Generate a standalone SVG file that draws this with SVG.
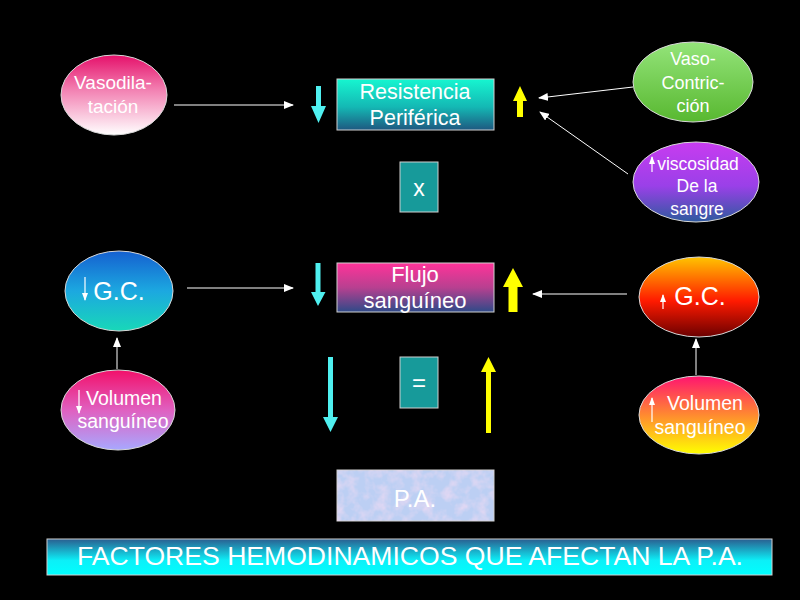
<svg xmlns="http://www.w3.org/2000/svg" width="800" height="600" viewBox="0 0 800 600">
<defs>
<style>
text{font-family:"Liberation Sans",Arial,sans-serif;fill:#ffffff;text-anchor:middle}
.node{stroke:#d8d8d8;stroke-width:1}
.box{stroke:#d0d0d0;stroke-width:1}
.conn{stroke:#ffffff;stroke-width:1;fill:none}
.thin{stroke:#ffffff;stroke-width:1.2;fill:none}
.cyan{fill:#4ff0f0}
.yel{fill:#ffff00}
</style>
<marker id="ah" markerUnits="userSpaceOnUse" markerWidth="10" markerHeight="8" refX="9" refY="4" orient="auto">
<path d="M0,0 L10,4 L0,8 Z" fill="#ffffff"/>
</marker>
<marker id="sm" markerUnits="userSpaceOnUse" markerWidth="8" markerHeight="6" refX="7" refY="3" orient="auto">
<path d="M0,0 L8,3 L0,6 Z" fill="#ffffff"/>
</marker>
<linearGradient id="gVaso" x1="0" y1="0" x2="0" y2="1"><stop offset="0" stop-color="#e5106a"/><stop offset="0.45" stop-color="#f384b4"/><stop offset="1" stop-color="#ffffff"/></linearGradient>
<linearGradient id="gRes" x1="0" y1="0" x2="0" y2="1"><stop offset="0" stop-color="#16f6d0"/><stop offset="0.55" stop-color="#14b8b4"/><stop offset="1" stop-color="#1e5880"/></linearGradient>
<linearGradient id="gCon" x1="0" y1="0" x2="0" y2="1"><stop offset="0" stop-color="#94e47a"/><stop offset="1" stop-color="#58b830"/></linearGradient>
<linearGradient id="gVis" x1="0" y1="0" x2="0" y2="1"><stop offset="0" stop-color="#c83cf0"/><stop offset="0.55" stop-color="#9a40e8"/><stop offset="1" stop-color="#2e5a9e"/></linearGradient>
<linearGradient id="gGCl" x1="0" y1="0" x2="0" y2="1"><stop offset="0" stop-color="#1560d0"/><stop offset="0.5" stop-color="#1ca8e0"/><stop offset="1" stop-color="#18d8b8"/></linearGradient>
<linearGradient id="gVoll" x1="0" y1="0" x2="0" y2="1"><stop offset="0" stop-color="#f2106a"/><stop offset="0.5" stop-color="#e060c0"/><stop offset="1" stop-color="#a8a8ff"/></linearGradient>
<linearGradient id="gFlu" x1="0" y1="0" x2="0" y2="1"><stop offset="0" stop-color="#ff3399"/><stop offset="0.5" stop-color="#b84090"/><stop offset="1" stop-color="#2e4a88"/></linearGradient>
<linearGradient id="gGCr" x1="0" y1="0" x2="0" y2="1"><stop offset="0" stop-color="#ffc400"/><stop offset="0.55" stop-color="#ff1a00"/><stop offset="1" stop-color="#6a0000"/></linearGradient>
<linearGradient id="gVolr" x1="0" y1="0" x2="0" y2="1"><stop offset="0" stop-color="#ff1470"/><stop offset="0.5" stop-color="#ff8a30"/><stop offset="1" stop-color="#ffff00"/></linearGradient>
<linearGradient id="gBan" x1="0" y1="0" x2="0" y2="1"><stop offset="0" stop-color="#2a5e90"/><stop offset="0.6" stop-color="#0cf0f8"/><stop offset="1" stop-color="#00ffff"/></linearGradient>
<filter id="tex" x="0" y="0" width="1" height="1">
<feTurbulence type="fractalNoise" baseFrequency="0.09" numOctaves="3" seed="4" result="n"/>
<feColorMatrix in="n" type="matrix" values="0 0 0 0 0.93  0 0 0 0 0.72  0 0 0 0 0.9  1.4 0 0 0 -0.55" result="c"/>
<feComposite in="c" in2="SourceGraphic" operator="in"/>
</filter>
</defs>
<rect width="800" height="600" fill="#000000"/>

<g id="connectors">
<line class="conn" x1="174" y1="105" x2="293" y2="105" marker-end="url(#ah)"/>
<line class="conn" x1="633" y1="87" x2="539" y2="98" marker-end="url(#ah)"/>
<line class="conn" x1="628" y1="174" x2="540" y2="112" marker-end="url(#ah)"/>
<line class="conn" x1="187" y1="288" x2="293" y2="288" marker-end="url(#ah)"/>
<line class="conn" x1="627" y1="294" x2="533" y2="294" marker-end="url(#ah)"/>
<line class="conn" x1="117" y1="369" x2="117" y2="338" marker-end="url(#ah)"/>
<line class="conn" x1="696" y1="375" x2="696" y2="339" marker-end="url(#ah)"/>
</g>

<g id="arrows">
<polygon class="cyan" points="316,86 321,86 321,106 326,106 318.5,123 311,106 316,106"/>
<polygon class="yel" points="520,86 527,101 523,101 523,117 517,117 517,101 513,101"/>
<polygon class="cyan" points="315.5,263 320.5,263 320.5,292 325.5,292 318,306 311,292 315.5,292"/>
<polygon class="yel" points="513,268 523,287 517.5,287 517.5,312 508.5,312 508.5,287 503,287"/>
<polygon class="cyan" points="328,357 333,357 333,417 338,417 330.5,432 323,417 328,417"/>
<polygon class="yel" points="488.5,357 496,372 491,372 491,433 486,433 486,372 481,372"/>
</g>

<g id="vasodilatacion">
<ellipse class="node" cx="114" cy="95" rx="53" ry="40" fill="url(#gVaso)"/>
<text x="113" y="89" font-size="19">Vasodila-</text>
<text x="113" y="113" font-size="19">tación</text>
</g>

<g id="resistencia">
<rect class="box" x="337" y="79" width="157" height="51" fill="url(#gRes)"/>
<text x="415" y="99" font-size="21.5">Resistencia</text>
<text x="415" y="125" font-size="21.5">Periférica</text>
</g>

<g id="por">
<rect class="box" x="400" y="162" width="38" height="50" fill="#179a9a"/>
<text x="419" y="196" font-size="23">x</text>
</g>

<g id="vasocontriccion">
<ellipse class="node" cx="693" cy="82" rx="60" ry="40" fill="url(#gCon)"/>
<text x="693" y="65" font-size="18">Vaso-</text>
<text x="693" y="89" font-size="18">Contric-</text>
<text x="693" y="112" font-size="18">ción</text>
</g>

<g id="viscosidad">
<ellipse class="node" cx="696" cy="182" rx="63" ry="40" fill="url(#gVis)"/>
<line class="thin" x1="652" y1="172" x2="652" y2="157" marker-end="url(#sm)"/>
<text x="698" y="170" font-size="17.5">viscosidad</text>
<text x="697" y="192" font-size="17.5">De la</text>
<text x="697" y="215" font-size="17.5">sangre</text>
</g>

<g id="gc-izq">
<ellipse class="node" cx="119" cy="291" rx="54" ry="40" fill="url(#gGCl)"/>
<line class="thin" x1="85" y1="277" x2="85" y2="300" marker-end="url(#sm)"/>
<text x="119" y="300" font-size="25">G.C.</text>
</g>

<g id="volumen-izq">
<ellipse class="node" cx="118" cy="410" rx="57" ry="40" fill="url(#gVoll)"/>
<line class="thin" x1="79" y1="390" x2="79" y2="413" marker-end="url(#sm)"/>
<text x="124" y="405" font-size="19.5">Volumen</text>
<text x="123" y="428" font-size="19.5">sanguíneo</text>
</g>

<g id="flujo">
<rect class="box" x="337" y="263" width="157" height="49" fill="url(#gFlu)"/>
<text x="415" y="282" font-size="22">Flujo</text>
<text x="415" y="308" font-size="22">sanguíneo</text>
</g>

<g id="igual">
<rect class="box" x="400" y="357" width="38" height="51" fill="#179a9a"/>
<text x="419" y="391" font-size="24">=</text>
</g>

<g id="gc-der">
<ellipse class="node" cx="699" cy="297" rx="60" ry="40" fill="url(#gGCr)"/>
<line class="thin" x1="663" y1="309" x2="663" y2="295" marker-end="url(#sm)"/>
<text x="700" y="305" font-size="25">G.C.</text>
</g>

<g id="volumen-der">
<ellipse class="node" cx="699" cy="415" rx="60" ry="39" fill="url(#gVolr)"/>
<line class="thin" x1="652" y1="422" x2="652" y2="398" marker-end="url(#sm)"/>
<text x="705" y="410" font-size="19.5">Volumen</text>
<text x="700" y="434" font-size="19.5">sanguíneo</text>
</g>

<g id="pa">
<rect class="box" x="337" y="470" width="157" height="51" fill="#bccff3"/>
<rect x="337" y="470" width="157" height="51" fill="#ffffff" filter="url(#tex)"/>
<text x="415" y="507" font-size="24">P.A.</text>
</g>

<g id="titulo">
<rect x="47" y="539" width="725" height="36" fill="url(#gBan)" stroke="#d0d0d0" stroke-width="1"/>
<text x="410" y="565" font-size="25.5" textLength="666" lengthAdjust="spacingAndGlyphs">FACTORES HEMODINAMICOS QUE AFECTAN LA P.A.</text>
</g>
</svg>
